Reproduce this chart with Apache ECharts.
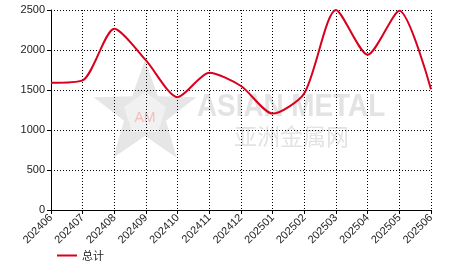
<!DOCTYPE html>
<html><head><meta charset="utf-8">
<script src="https://cdn.jsdelivr.net/npm/echarts@6/dist/echarts.min.js"></script>
<style>html,body{margin:0;padding:0;background:#fff}#c{width:466px;height:272px}</style>
</head><body><div id="c"></div>
<script>
var categories = ['202406','202407','202408','202409','202410','202411','202412','202501','202502','202503','202504','202505','202506'];
var totalValues = [1590, 1620, 2265, 1870, 1410, 1715, 1550, 1205, 1460, 2500, 1940, 2490, 1510];
var seriesName = '总计';
var yTicks = {min: 0, max: 2500, interval: 500};

function starPoints(cx, cy, R, r) {
  var pts = [];
  for (var i = 0; i < 10; i++) {
    var a = -Math.PI / 2 + i * Math.PI / 5;
    var rad = i % 2 === 0 ? R : r;
    pts.push([cx + rad * Math.cos(a), cy + rad * Math.sin(a)]);
  }
  return pts;
}

var chart = echarts.init(document.getElementById('c'), null, {renderer: 'canvas'});
chart.setOption({
  animation: false,
  textStyle: {fontFamily: 'Liberation Sans, Arial, sans-serif'},
  graphic: [
    {type: 'polygon', z: 0, shape: {points: starPoints(145, 114, 54, 22)}, style: {fill: '#e6e6e6', stroke: null}},
    {type: 'polygon', z: 0, shape: {points: starPoints(145, 114, 22, 18)}, style: {fill: '#f1f1f1', stroke: null}},
    {type: 'text', z: 0, x: 145, y: 118, style: {text: 'AM', fill: '#f6bcbc', font: '14px Liberation Sans, Arial', align: 'center', verticalAlign: 'middle'}},
    {type: 'text', z: 0, x: 197, y: 91, scaleX: 0.87, style: {text: 'ASIAN METAL', fill: '#e3e3e3', font: 'bold 32px Liberation Sans, Arial'}},
    {type: 'text', z: 0, x: 234, y: 125, style: {text: '亚洲金属网', fill: '#e3e3e3', font: '23px Noto Sans CJK SC'}}
  ],
  grid: {left: 51, right: 35, top: 10, bottom: 62},
  legend: {
    left: 52, bottom: 6, itemWidth: 20, itemHeight: 2, itemGap: 10,
    icon: 'rect',
    textStyle: {fontSize: 11, color: '#222', fontFamily: 'Noto Sans CJK SC'},
    data: [seriesName]
  },
  xAxis: {
    type: 'category', data: categories, boundaryGap: false,
    axisLine: {lineStyle: {color: '#000', width: 1}},
    axisTick: {alignWithLabel: true, length: 4, lineStyle: {color: '#000'}},
    axisLabel: {rotate: 45, fontSize: 11, color: '#222', margin: 6, interval: 0},
    splitLine: {show: true, lineStyle: {color: '#000', type: [1, 2], width: 1}}
  },
  yAxis: {
    type: 'value', min: yTicks.min, max: yTicks.max, interval: yTicks.interval,
    axisLine: {show: true, lineStyle: {color: '#000', width: 1}},
    axisTick: {show: true, length: 4, lineStyle: {color: '#000'}},
    axisLabel: {fontSize: 11, color: '#222', margin: 6, formatter: function (v) { return String(v); }},
    splitLine: {show: true, lineStyle: {color: '#000', type: [1, 2], width: 1}}
  },
  series: [{
    name: seriesName, type: 'line', data: totalValues, smooth: 0.25,
    showSymbol: false, symbol: 'none',
    lineStyle: {color: '#d8001c', width: 2},
    itemStyle: {color: '#d8001c'}
  }]
});
</script></body></html>
